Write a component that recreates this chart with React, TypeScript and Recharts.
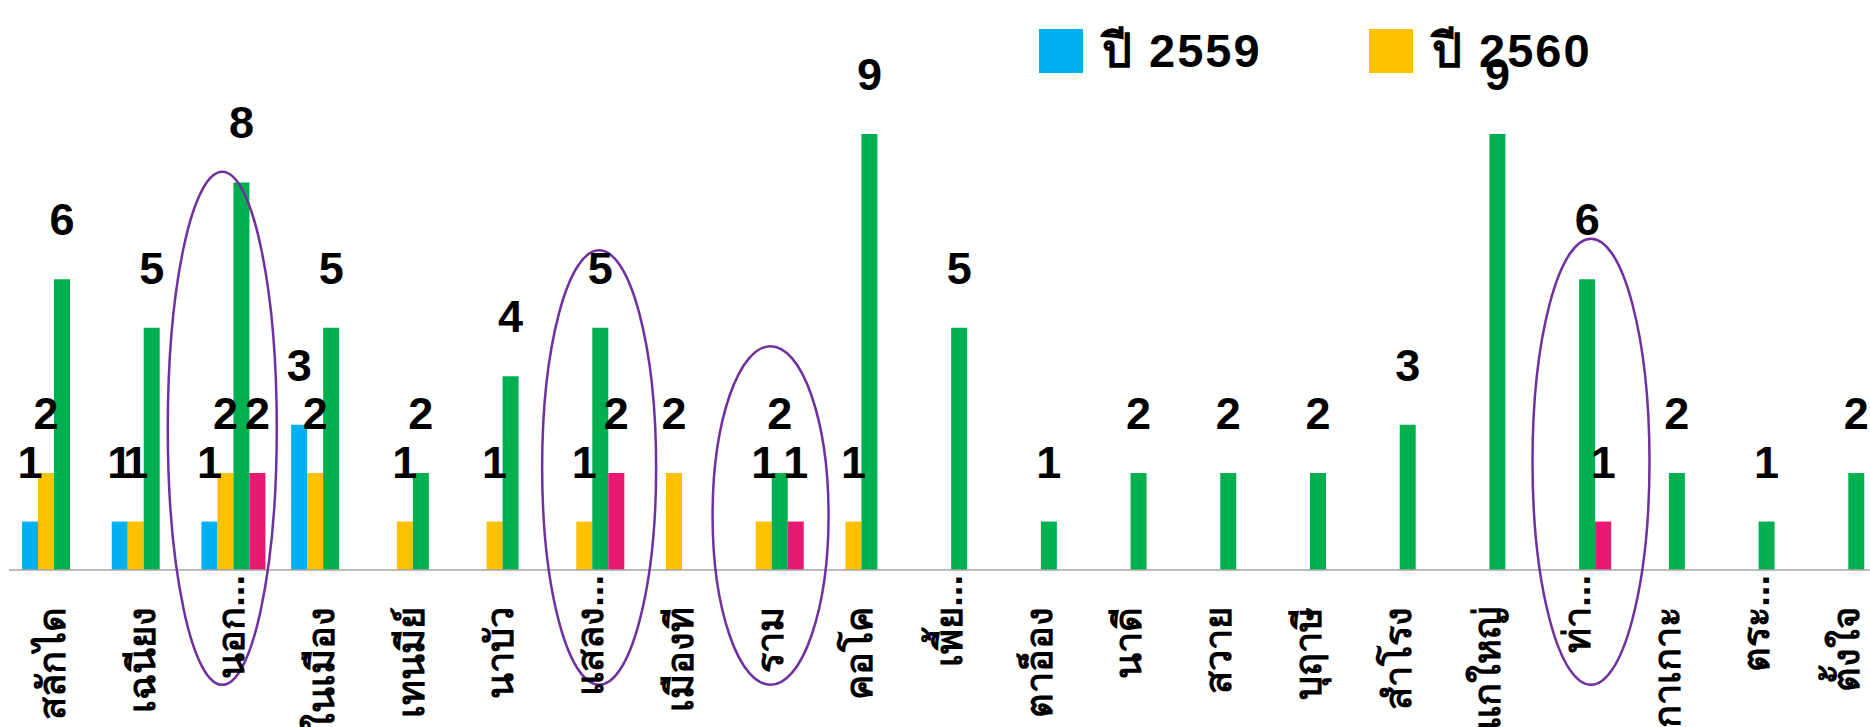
import React from 'react';
import {
  BarChart,
  Bar,
  XAxis,
  YAxis,
  LabelList,
  ReferenceDot
} from 'recharts';

const categories = [
  'สลักได', 'เฉนียง', 'นอก...', 'ในเมือง', 'เทนมีย์', 'นาบัว', 'แสลง...',
  'เมืองที', 'ราม', 'คอโค', 'เพี้ย...', 'ตาอ็อง', 'นาดี', 'สวาย',
  'บุฤาษี', 'สำโรง', 'แกใหญ่', 'ท่า...', 'กาเกาะ', 'ตระ...', 'ตั้งใจ'
];

const y2559 = [1, 1, 1, 3, null, null, null, null, null, null, null, null, null, null, null, null, null, null, null, null, null];
const y2560 = [2, 1, 2, 2, 1, 1, 1, 2, 1, 1, null, null, null, null, null, null, null, null, null, null, null];
const y2561 = [6, 5, 8, 5, 2, 4, 5, null, 2, 9, 5, 1, 2, 2, 2, 3, 9, 6, 2, 1, 2];
const y2562 = [null, null, 2, null, null, null, 2, null, 1, null, null, null, null, null, null, null, null, 1, null, null, null];

// only the first two years appear in the legend
const legendItems = ['ปี 2559', 'ปี 2560'];

// circled categories: top and bottom of the ring in value units
const circled = [
  { name: 'นอก...', top: 8.22, bottom: -2.37 },
  { name: 'แสลง...', top: 6.6, bottom: -2.37 },
  { name: 'ราม', top: 4.62, bottom: -2.37 },
  { name: 'ท่า...', top: 6.84, bottom: -2.37 }
];

const data = categories.map((name, i) => ({
  name,
  a: y2559[i],
  b: y2560[i],
  c: y2561[i],
  d: y2562[i]
}));

const PLOT_TOP = 134;
const PLOT_H = 436;
const Y_MAX = 9;
const PX = PLOT_H / Y_MAX;

// ring drawing tweaks (px)
const ringStyle: Record<string, { dx: number; rx: number }> = {
  'นอก...': { dx: -11, rx: 54.5 },
  'แสลง...': { dx: 7, rx: 57 },
  'ราม': { dx: -1, rx: 58 },
  'ท่า...': { dx: 12, rx: 58.5 }
};

const BLUE = '#00B0F0';
const YELLOW = '#FFC000';
const GREEN = '#00B050';
const PINK = '#E91872';

const labelFont = "'Liberation Sans', Arial, sans-serif";
const thaiFont = "Tahoma, 'Liberation Sans', sans-serif";

const Tick = ({ x, y, payload }: any) => {
  const v: string = payload.value;
  const trunc = v.endsWith('...');
  const tx = x + 11;
  const ty = y + (trunc ? 3 : 35);
  return (
    <text
      x={tx}
      y={ty}
      transform={`rotate(-90, ${tx}, ${ty})`}
      textAnchor="end"
      fontSize={38}
      fontWeight="bold"
      fontFamily={thaiFont}
      fill="#000"
    >
      {v}
    </text>
  );
};

const LegendBox = () => (
  <div
    style={{
      position: 'absolute',
      top: 29,
      left: 1039,
      display: 'flex',
      fontFamily: thaiFont
    }}
  >
    {legendItems.map((t, i) => (
      <div key={t} style={{ display: 'flex', alignItems: 'center', width: 330 }}>
        <div style={{ width: 44, height: 44, background: i === 0 ? BLUE : YELLOW }} />
        <span
          style={{
            marginLeft: 19,
            fontSize: 47,
            fontWeight: 'bold',
            letterSpacing: 2,
            color: '#000',
            lineHeight: '44px'
          }}
        >
          {t}
        </span>
      </div>
    ))}
  </div>
);

const fmt = (v: any) => (v ? v : '');

const labelProps = {
  position: 'top' as const,
  offset: 44,
  fontSize: 45,
  fontWeight: 'bold',
  fontFamily: labelFont,
  fill: '#000',
  formatter: fmt
};

const Ring = (props: any) => {
  const { cx, cy, item } = props;
  if (cx == null || cy == null) return null;
  const st = ringStyle[item.name];
  const ry = ((item.top - item.bottom) * PX) / 2;
  return (
    <ellipse
      cx={cx + st.dx}
      cy={cy + ry}
      rx={st.rx}
      ry={ry}
      fill="none"
      stroke="#7030A0"
      strokeWidth={2.5}
    />
  );
};

export default function App() {
  return (
    <div
      style={{
        position: 'absolute',
        left: 0,
        top: 0,
        width: 1870,
        height: 727,
        overflow: 'hidden',
        background: '#fff'
      }}
    >
      <BarChart
        width={1893}
        height={727}
        data={data}
        margin={{ top: PLOT_TOP, right: 0, left: 9, bottom: 0 }}
        barCategoryGap="15%"
        barGap={0}
        barSize={16}
      >
        <XAxis
          dataKey="name"
          interval={0}
          height={727 - PLOT_TOP - PLOT_H}
          tickLine={false}
          tickSize={0}
          tick={<Tick />}
          axisLine={{ stroke: '#A6A6A6', strokeWidth: 1.5 }}
        />
        <YAxis hide domain={[0, Y_MAX]} allowDataOverflow ticks={[0, 3, 6, 9]} />
        <Bar dataKey="a" name="ปี 2559" fill={BLUE} isAnimationActive={false}>
          <LabelList dataKey="a" {...labelProps} />
        </Bar>
        <Bar dataKey="b" name="ปี 2560" fill={YELLOW} isAnimationActive={false}>
          <LabelList dataKey="b" {...labelProps} />
        </Bar>
        <Bar dataKey="c" name="ปี 2561" fill={GREEN} isAnimationActive={false}>
          <LabelList dataKey="c" {...labelProps} />
        </Bar>
        <Bar dataKey="d" name="ปี 2562" fill={PINK} isAnimationActive={false}>
          <LabelList dataKey="d" {...labelProps} />
        </Bar>
        {circled.map((item) => (
          <ReferenceDot
            key={item.name}
            x={item.name}
            y={item.top}
            ifOverflow="visible"
            shape={(p: any) => <Ring {...p} item={item} />}
          />
        ))}
      </BarChart>
      <LegendBox />
    </div>
  );
}
